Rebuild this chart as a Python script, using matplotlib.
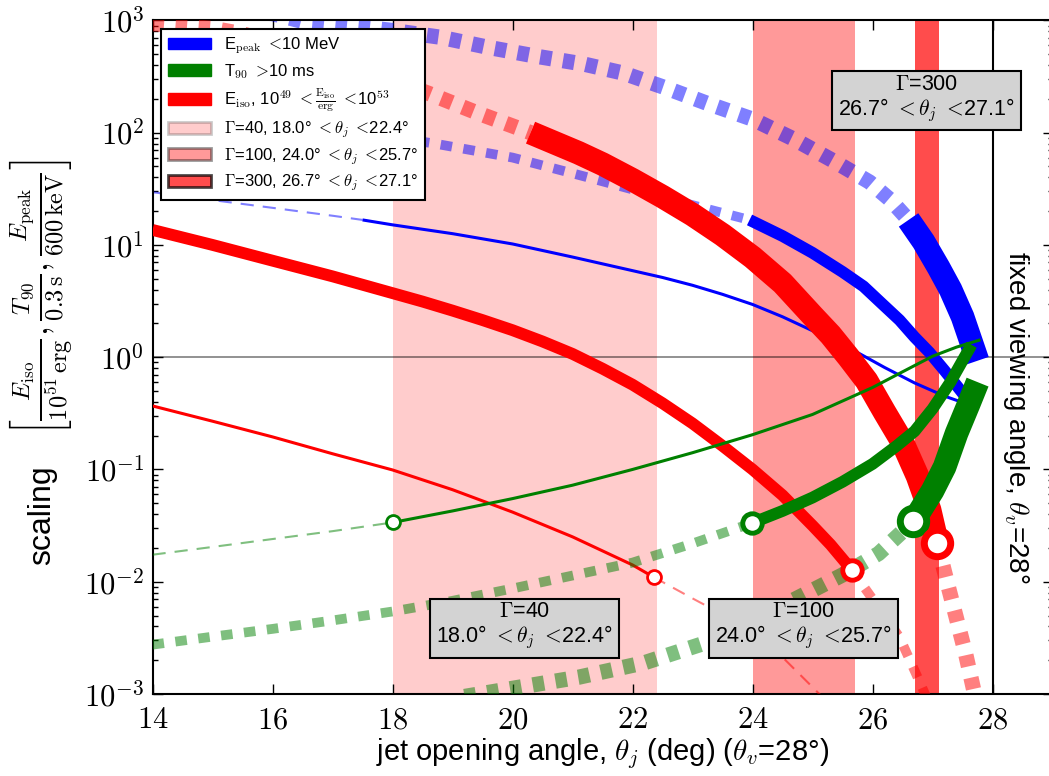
import matplotlib
matplotlib.use('Agg')
import numpy as np
import matplotlib.pyplot as plt
from matplotlib.patches import Patch
from matplotlib.ticker import FuncFormatter, FixedLocator

plt.rcParams['font.family'] = ['Liberation Sans', 'DejaVu Sans']
plt.rcParams['mathtext.fontset'] = 'cm'
plt.rcParams['lines.scale_dashes'] = False

# jet setups: Lorentz factor and the allowed opening-angle window
gammas = [40, 100, 300]
th_lo = [18.0, 24.0, 26.7]
th_hi = [22.4, 25.7, 27.1]
theta_v = 28

x_ticks = [14, 16, 18, 20, 22, 24, 26, 28]
y_ticks = [1e-3, 1e-2, 1e-1, 1e0, 1e1, 1e2, 1e3]

# ---- Gamma = 40 ----
ep40_out_x = [14, 15, 16, 17, 17.5]
ep40_out_y = [29.5, 25.1, 21.4, 18.2, 16.7]
ep40_in_x = [17.5, 18, 19, 20, 21, 22, 22.5, 23, 23.5, 24, 24.5, 25, 25.75, 26.2, 26.7, 27.2, 27.75]
ep40_in_y = [16.7, 15.1, 12.6, 10.2, 7.8, 5.9, 5.13, 4.37, 3.63, 2.95, 2.29, 1.72, 1.10, 0.81,
             0.59, 0.45, 0.355]

ei40_in_x = [14, 15, 16, 17, 18, 19, 20, 21, 22, 22.35]
ei40_in_y = [0.368, 0.269, 0.195, 0.138, 0.099, 0.066, 0.0417, 0.0251, 0.0141, 0.011]
ei40_out_x = [22.35, 23, 23.8, 24.4, 25.0, 25.4]
ei40_out_y = [0.011, 0.0071, 0.0042, 0.0024, 0.00115, 0.0007]

t40_out_x = [14, 15, 16, 17, 18]
t40_out_y = [0.0174, 0.0204, 0.024, 0.0282, 0.0337]
t40_in_x = [18, 19, 20, 21, 22, 23, 24, 25, 26, 26.5, 27, 27.4, 27.8]
t40_in_y = [0.0337, 0.0427, 0.055, 0.0724, 0.10, 0.141, 0.204, 0.309, 0.537, 0.741, 1.02, 1.23, 1.43]

# ---- Gamma = 100 ----
ep100_out_x = [15, 16, 17, 18, 18.7, 20, 21.2, 22.2, 23.1, 23.95]
ep100_out_y = [155, 132, 110, 91, 80, 60, 40.7, 29.2, 21.9, 16.7]
ep100_in_x = [23.95, 24.5, 25.0, 25.5, 25.85, 26.15, 26.45, 26.7, 26.95, 27.2, 27.4, 27.6]
ep100_in_y = [16.7, 12.0, 8.5, 5.75, 4.27, 3.02, 2.14, 1.51, 1.10, 0.76, 0.56, 0.41]

ei100_in_x = [14, 15, 16, 17, 18, 18.5, 19, 19.5, 20, 20.5, 21, 21.5, 22, 22.5, 23, 23.5,
              24, 24.5, 25, 25.3, 25.65]
ei100_in_y = [13.6, 10.0, 7.24, 5.25, 3.72, 3.13, 2.60, 2.14, 1.74, 1.38, 1.07, 0.79, 0.569,
              0.389, 0.257, 0.162, 0.10, 0.0589, 0.0316, 0.0214, 0.0128]
ei100_out_x = [25.65, 25.85, 26.1, 26.45, 26.8, 27.0]
ei100_out_y = [0.0128, 0.0091, 0.0059, 0.0032, 0.00123, 0.0007]

t100_out_x = [14, 15, 16, 17, 18, 19, 20, 21, 22, 23, 23.99]
t100_out_y = [0.00275, 0.00324, 0.0038, 0.00452, 0.00543, 0.00676, 0.0087, 0.01135, 0.0148,
              0.0219, 0.0333]
t100_in_x = [23.99, 24.5, 25.0, 25.5, 26.0, 26.4, 26.7, 27.0, 27.3, 27.5, 27.65]
t100_in_y = [0.0333, 0.0427, 0.0562, 0.0776, 0.112, 0.162, 0.219, 0.347, 0.603, 0.933, 1.29]

# ---- Gamma = 300 ----
ep300_out_x = [14, 15, 16, 16.5, 17.5, 18, 18.8, 19.6, 20.4, 21.2, 21.85, 22.55, 23.25, 24.0,
               24.7, 25.35, 25.95, 26.3, 26.6]
ep300_out_y = [1400, 1250, 1150, 980, 870, 813, 708, 575, 479, 407, 339, 251, 182, 132,
               87, 56, 36.3, 25.1, 16.7]
ep300_in_x = [26.6, 26.85, 27.1, 27.3, 27.5, 27.75]
ep300_in_y = [16.7, 10.7, 6.3, 4.0, 2.29, 0.93]

ei300_out_x = [14, 15, 15.5, 16, 17, 18, 18.6, 19.4, 20.3]
ei300_out_y = [935, 850, 760, 630, 427, 295, 224, 151, 100]
ei300_in_x = [20.3, 20.7, 21.1, 21.5, 22.0, 22.5, 23.0, 23.5, 24.0, 24.5, 25.0, 25.3, 25.6,
              25.9, 26.2, 26.5, 26.75, 26.95, 27.08]
ei300_in_y = [100, 81.3, 66.1, 52.5, 38.0, 26.9, 18.6, 12.3, 7.76, 4.57, 2.34, 1.58, 1.0,
              0.617, 0.324, 0.174, 0.0871, 0.0437, 0.0219]
ei300_out2_x = [27.08, 27.25, 27.4, 27.55, 27.68, 27.75]
ei300_out2_y = [0.0219, 0.00955, 0.00468, 0.00229, 0.00112, 0.00076]

t300_out_x = [19.2, 20.2, 21.1, 22.2, 23.3, 24.4, 25.5, 26.1, 26.68]
t300_out_y = [0.00095, 0.00117, 0.00141, 0.0019, 0.00295, 0.00575, 0.0115, 0.0178, 0.0344]
t300_in_x = [26.68, 27.0, 27.2, 27.4, 27.6, 27.75]
t300_in_y = [0.0344, 0.0646, 0.105, 0.21, 0.38, 0.6]

lw_in = {40: 2.2, 100: 8.5, 300: 17}
lw_out = {40: 1.5, 100: 7, 300: 11}
ms = {40: 10, 100: 14, 300: 19}
mew = {40: 2, 100: 3.5, 300: 5}

fig = plt.figure(figsize=(10.49, 7.76), dpi=100)
ax = fig.add_axes([0.1454, 0.1057, 0.858, 0.868])

# allowed windows
span_alpha = [0.2, 0.4, 0.7]
for lo, hi, a in zip(th_lo, th_hi, span_alpha):
    ax.axvspan(lo, hi, color='red', alpha=a, lw=0, zorder=1)

ax.axhline(1, color='k', alpha=0.5, lw=1.2, zorder=1.5)
ax.axvline(theta_v, color='k', lw=1.5, zorder=1.5)


def dashed(x, y, col, g, z):
    d = (9.5, 6.5) if g == 40 else (8.3, 8.3)
    ax.plot(x, y, color=col, lw=lw_out[g], alpha=0.5, dashes=d, zorder=z)


def solid(x, y, col, g, z):
    ax.plot(x, y, color=col, lw=lw_in[g], solid_capstyle='butt', solid_joinstyle='round', zorder=z)


# E_peak (blue, bottom layer)
for g, ox, oy, ix, iy in [(40, ep40_out_x, ep40_out_y, ep40_in_x, ep40_in_y),
                          (100, ep100_out_x, ep100_out_y, ep100_in_x, ep100_in_y),
                          (300, ep300_out_x, ep300_out_y, ep300_in_x, ep300_in_y)]:
    dashed(ox, oy, 'blue', g, 2)
    solid(ix, iy, 'blue', g, 2.1)

# E_iso (red)
dashed(ei40_out_x, ei40_out_y, 'red', 40, 3)
solid(ei40_in_x, ei40_in_y, 'red', 40, 3.1)
dashed(ei100_out_x, ei100_out_y, 'red', 100, 3)
solid(ei100_in_x, ei100_in_y, 'red', 100, 3.1)
dashed(ei300_out_x, ei300_out_y, 'red', 300, 3)
dashed(ei300_out2_x, ei300_out2_y, 'red', 300, 3)
solid(ei300_in_x, ei300_in_y, 'red', 300, 3.1)

# T90 (green, top layer)
for g, ox, oy, ix, iy in [(40, t40_out_x, t40_out_y, t40_in_x, t40_in_y),
                          (100, t100_out_x, t100_out_y, t100_in_x, t100_in_y),
                          (300, t300_out_x, t300_out_y, t300_in_x, t300_in_y)]:
    dashed(ox, oy, 'green', g, 4)
    solid(ix, iy, 'green', g, 4.1)
    ax.plot(ix[0], iy[0], 'o', mfc='white', mec='green', ms=ms[g], mew=mew[g], zorder=6)

# circles where the E_iso window closes
for g, ix, iy in [(40, ei40_in_x, ei40_in_y), (100, ei100_in_x, ei100_in_y),
                  (300, ei300_in_x, ei300_in_y)]:
    ax.plot(ix[-1], iy[-1], 'o', mfc='white', mec='red', ms=ms[g], mew=mew[g], zorder=6)


def window(lo, hi):
    return '%.1f° $<\\theta_j$ $<\\!$%.1f°' % (lo, hi)


# labels for the windows
box_y = [0.004, 0.004, 200]
for g, lo, hi, by in zip(gammas, th_lo, th_hi, box_y):
    ax.text((lo + hi) / 2, by, r'$\Gamma$=%d' % g + '\n' + window(lo, hi),
            ha='center', va='center', fontsize=15.5, linespacing=1.05, zorder=8,
            bbox=dict(boxstyle='square,pad=0.3', fc='lightgray', ec='k', lw=1.5))

ax.text(28.39, 0.29, r'fixed viewing angle, $\theta_v$=%d°' % theta_v,
        rotation=-90, ha='center', va='center', fontsize=20)

ax.set_xlim(14, 29)
ax.set_yscale('log')
ax.set_ylim(1e-3, 1e3)
ax.xaxis.set_major_locator(FixedLocator(x_ticks))
ax.yaxis.set_major_locator(FixedLocator(y_ticks))
ax.xaxis.set_major_formatter(FuncFormatter(lambda v, p: r'$%d$' % v))
ax.yaxis.set_major_formatter(FuncFormatter(lambda v, p: r'$10^{%d}$' % round(np.log10(v))))
ax.tick_params(which='both', direction='in', top=True, right=True, width=1)
ax.tick_params(which='major', length=7, labelsize=22)
ax.tick_params(axis='x', pad=8)
ax.tick_params(axis='y', pad=6)
ax.tick_params(which='minor', length=3.5)
for s in ax.spines.values():
    s.set_linewidth(1.5)

ax.set_xlabel(r'jet opening angle, $\theta_j$ (deg) ($\theta_v$=%d°)' % theta_v,
              fontsize=21, labelpad=1)
# y label: plain word plus the bracketed normalisations
fig.text(0.040, 0.336, 'scaling', rotation=90, ha='center', va='center', fontsize=23)
fig.text(0.039, 0.616,
         r'$\left[\frac{E_{\rm iso}}{10^{51}\,{\rm erg}}, '
         r'\frac{T_{90}}{0.3\,{\rm s}}, \frac{E_{\rm peak}}{600\,{\rm keV}}\right]$',
         rotation=90, ha='center', va='center', fontsize=25)

handles = [Patch(fc='blue', ec='blue'), Patch(fc='green', ec='green'), Patch(fc='red', ec='red')]
labels = [r'E$_{\rm peak}$ $<\!$10 MeV', r'T$_{90}$ $>\!$10 ms',
          r'E$_{\rm iso}$, 10$^{49}$ $<\frac{\rm E_{iso}}{\rm erg}$ $<\!$10$^{53}$']
for g, lo, hi, a in zip(gammas, th_lo, th_hi, span_alpha):
    handles.append(Patch(fc='red', ec='k', alpha=a, lw=2))
    labels.append(r'$\Gamma$=%d, ' % g + window(lo, hi))
leg = ax.legend(handles, labels, loc='upper left', fontsize=12, handlelength=2.6,
                labelspacing=0.35, borderpad=0.4, fancybox=False, framealpha=1,
                edgecolor='k', borderaxespad=0.5)
leg.get_frame().set_linewidth(1.5)
leg.set_zorder(10)

fig.savefig('out.png', dpi=100)
